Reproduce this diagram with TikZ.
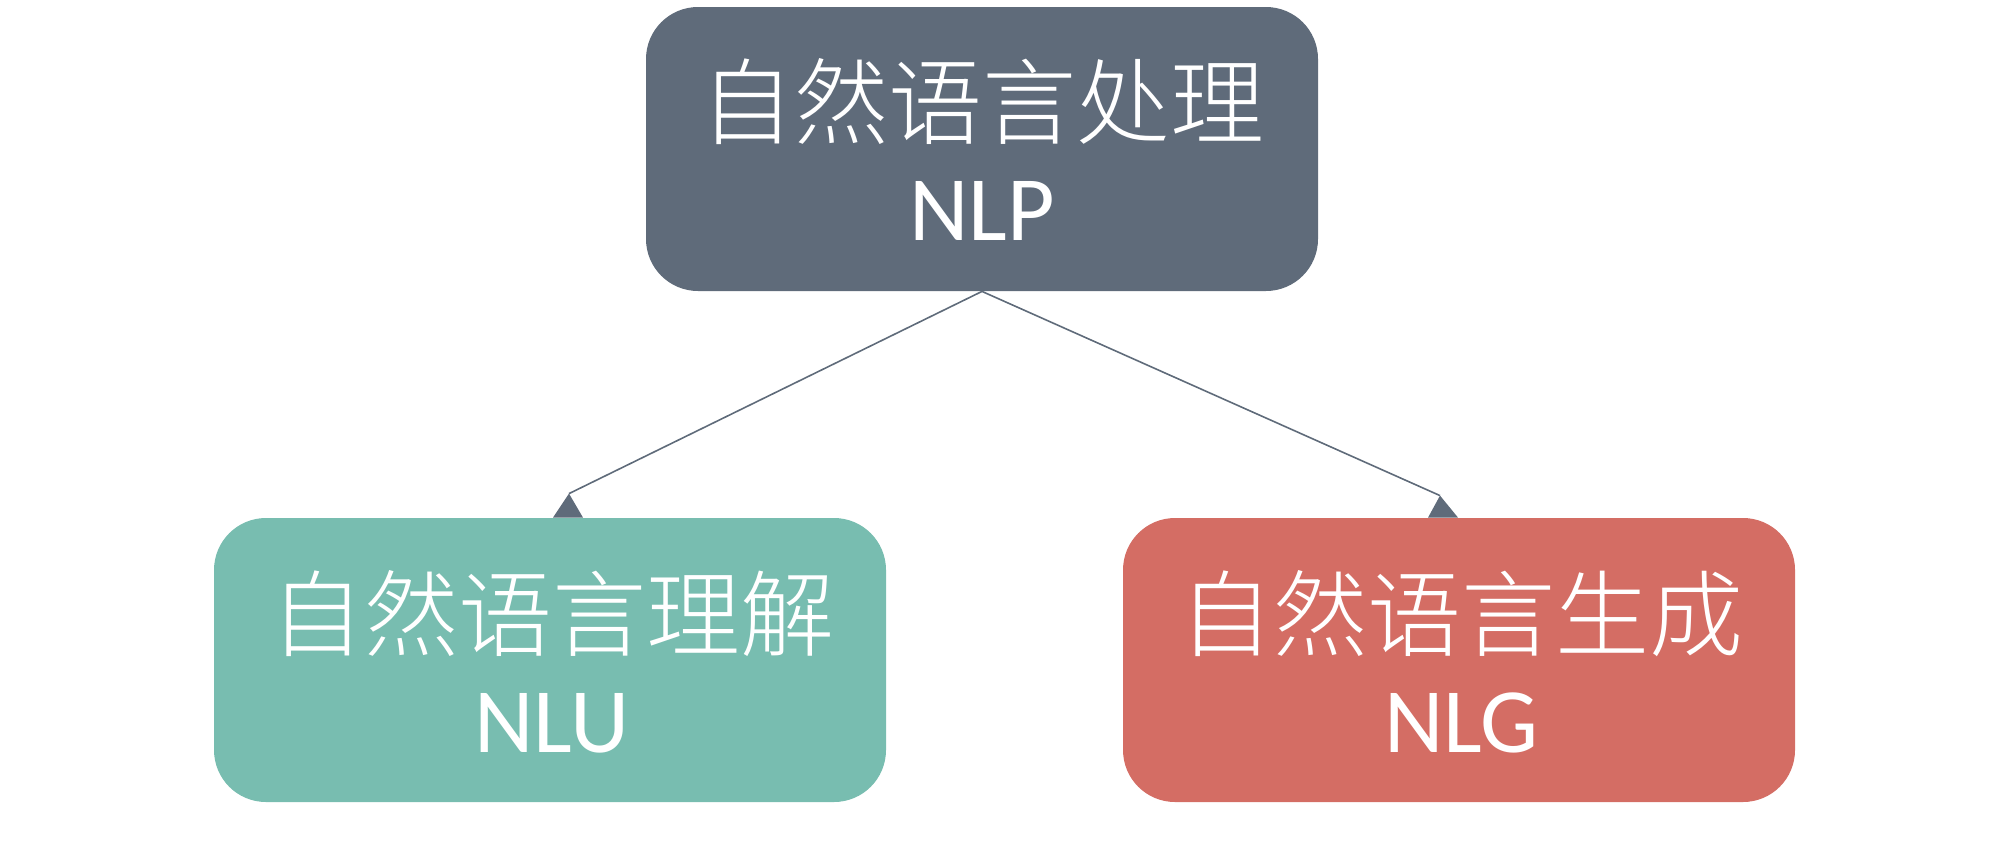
\documentclass[tikz,border=0pt]{standalone}
\usepackage{fontspec}
\setmainfont{Carlito}
\newfontfamily\cjk{Noto Sans CJK SC}[UprightFont={* Light}]
\definecolor{nlpgray}{HTML}{5F6B7A}
\definecolor{nlugreen}{HTML}{78BDB0}
\definecolor{nlgred}{HTML}{D46D64}
\begin{document}
\begin{tikzpicture}[x=0.5pt,y=-0.5pt,
  box/.style={rounded corners=26pt, minimum width=336pt, minimum height=142pt, inner sep=0pt},
  zh/.style={text=white, inner sep=0pt, font=\cjk\fontsize{47}{47}\selectfont},
  en/.style={text=white, inner sep=0pt, font=\fontsize{46}{46}\selectfont},
  link/.style={draw=nlpgray, line width=0.8pt},
  headfill/.style={fill=nlpgray}]
\useasboundingbox (0,0) rectangle (2006,857);

% boxes
\node[box, fill=nlpgray]  (nlp) at (982,149) {};
\node[box, fill=nlugreen] (nlu) at (550,660) {};
\node[box, fill=nlgred]   (nlg) at (1459,660) {};

% labels
\node[zh] (nlpzh) at (982,102) {自然语言处理};
\node[en] (nlpen) at (982,211) {NLP};
\node[zh] (nluzh) at (552,614) {自然语言理解};
\node[en] (nluen) at (552,723) {NLU};
\node[zh] (nlgzh) at (1461,614) {自然语言生成};
\node[en] (nlgen) at (1461,723) {NLG};

% connectors with triangular heads resting on the child boxes
\coordinate (nlutip) at ([shift={(9.5pt,12pt)}]nlu.north);
\coordinate (nlgtip) at ([shift={(-9.5pt,11pt)}]nlg.north);
\draw[link] (nlp.south) -- (nlutip);
\draw[link] (nlp.south) -- (nlgtip);
\fill[headfill] (nlutip) -- ([shift={(-8pt,0pt)}]nlu.north -| nlutip) -- ([shift={(7pt,0pt)}]nlu.north -| nlutip) -- cycle;
\fill[headfill] (nlgtip) -- ([shift={(-6pt,0pt)}]nlg.north -| nlgtip) -- ([shift={(9pt,0pt)}]nlg.north -| nlgtip) -- cycle;
\end{tikzpicture}
\end{document}
